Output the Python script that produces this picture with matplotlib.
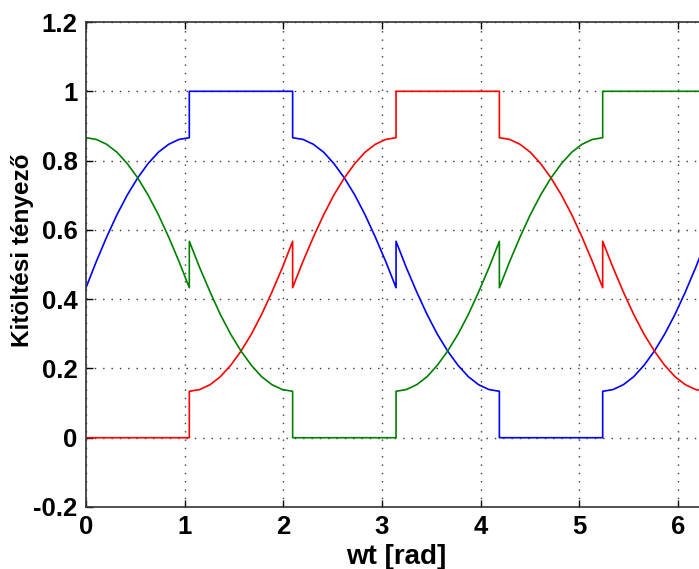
import matplotlib
matplotlib.use("Agg")
import matplotlib.pyplot as plt

# angle samples (rad), duplicated at the switching instants
wt = [0.000, 0.105, 0.209, 0.314, 0.419, 0.524, 0.628, 0.733, 0.838, 0.942, 1.047,
      1.047, 1.152, 1.257, 1.361, 1.466, 1.571, 1.676, 1.780, 1.885, 1.990, 2.094,
      2.094, 2.199, 2.304, 2.409, 2.513, 2.618, 2.723, 2.827, 2.932, 3.037, 3.142,
      3.142, 3.246, 3.351, 3.456, 3.560, 3.665, 3.770, 3.875, 3.979, 4.084, 4.189,
      4.189, 4.294, 4.398, 4.503, 4.608, 4.712, 4.817, 4.922, 5.027, 5.131, 5.236,
      5.236, 5.341, 5.445, 5.550, 5.655, 5.760, 5.864, 5.969, 6.074, 6.178, 6.283]

duty_blue = [0.433, 0.509, 0.579, 0.644, 0.701, 0.750, 0.791, 0.824, 0.847, 0.861, 0.866,
             1.000, 1.000, 1.000, 1.000, 1.000, 1.000, 1.000, 1.000, 1.000, 1.000, 1.000,
             0.866, 0.861, 0.847, 0.824, 0.791, 0.750, 0.701, 0.644, 0.579, 0.509, 0.433,
             0.567, 0.491, 0.421, 0.356, 0.299, 0.250, 0.209, 0.176, 0.153, 0.139, 0.134,
             0.000, 0.000, 0.000, 0.000, 0.000, 0.000, 0.000, 0.000, 0.000, 0.000, 0.000,
             0.134, 0.139, 0.153, 0.176, 0.209, 0.250, 0.299, 0.356, 0.421, 0.491, 0.567]

duty_red = [0.000, 0.000, 0.000, 0.000, 0.000, 0.000, 0.000, 0.000, 0.000, 0.000, 0.000,
            0.134, 0.139, 0.153, 0.176, 0.209, 0.250, 0.299, 0.356, 0.421, 0.491, 0.567,
            0.433, 0.509, 0.579, 0.644, 0.701, 0.750, 0.791, 0.824, 0.847, 0.861, 0.866,
            1.000, 1.000, 1.000, 1.000, 1.000, 1.000, 1.000, 1.000, 1.000, 1.000, 1.000,
            0.866, 0.861, 0.847, 0.824, 0.791, 0.750, 0.701, 0.644, 0.579, 0.509, 0.433,
            0.567, 0.491, 0.421, 0.356, 0.299, 0.250, 0.209, 0.176, 0.153, 0.139, 0.134]

duty_green = [0.866, 0.861, 0.847, 0.824, 0.791, 0.750, 0.701, 0.644, 0.579, 0.509, 0.433,
              0.567, 0.491, 0.421, 0.356, 0.299, 0.250, 0.209, 0.176, 0.153, 0.139, 0.134,
              0.000, 0.000, 0.000, 0.000, 0.000, 0.000, 0.000, 0.000, 0.000, 0.000, 0.000,
              0.134, 0.139, 0.153, 0.176, 0.209, 0.250, 0.299, 0.356, 0.421, 0.491, 0.567,
              0.433, 0.509, 0.579, 0.644, 0.701, 0.750, 0.791, 0.824, 0.847, 0.861, 0.866,
              1.000, 1.000, 1.000, 1.000, 1.000, 1.000, 1.000, 1.000, 1.000, 1.000, 1.000]

x_ticks = [0, 1, 2, 3, 4, 5, 6]
y_ticks = [-0.2, 0, 0.2, 0.4, 0.6, 0.8, 1, 1.2]
y_tick_labels = ["-0.2", "0", "0.2", "0.4", "0.6", "0.8", "1", "1.2"]

plt.rcParams['font.family'] = ['Liberation Sans', 'DejaVu Sans']
plt.rcParams['axes.unicode_minus'] = False

fig = plt.figure(figsize=(6.99, 5.69), dpi=100)
ax = fig.add_axes([86/699, 1-507/569, (706-86)/699, (507-22)/569])

ax.plot(wt, duty_blue, color=(0, 0, 1), lw=1.2)
ax.plot(wt, duty_red, color=(1, 0, 0), lw=1.2)
ax.plot(wt, duty_green, color=(0, 0.5, 0), lw=1.2)

ax.set_xlim(0, 6.283)
ax.set_ylim(-0.2, 1.2)
ax.set_xticks(x_ticks)
ax.set_xticklabels([str(v) for v in x_ticks])
ax.set_yticks(y_ticks)
ax.set_yticklabels(y_tick_labels)
ax.grid(True, color='black', linestyle=(0, (1, 5)), linewidth=1.0, alpha=0.8)
ax.tick_params(direction='in', length=5, width=1, top=True, right=True,
               labelsize=18.5, pad=6)
for lab in ax.get_xticklabels() + ax.get_yticklabels():
    lab.set_fontweight('bold')
for s in ax.spines.values():
    s.set_linewidth(1.2)
    s.set_color('#333333')

ax.set_xlabel('wt [rad]', fontsize=20, fontweight='bold', labelpad=3)
ax.set_ylabel('Kitöltési tényező', fontsize=17.5, fontweight='bold')
ax.yaxis.set_label_coords(-0.084, 0.53)

fig.savefig('out.png', dpi=100)
